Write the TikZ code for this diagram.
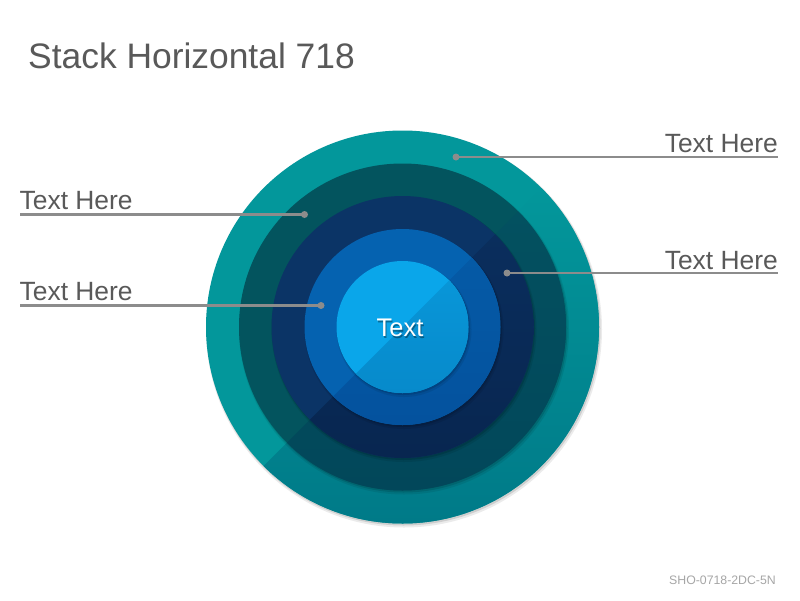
\documentclass[tikz,border=0pt]{standalone}
\usepackage{fontspec}
\setmainfont{Liberation Sans}
\definecolor{labelgray}{HTML}{595959}
\definecolor{linegray}{HTML}{8C8C8C}
\definecolor{footgray}{HTML}{A6A6A6}
\definecolor{ringAl}{HTML}{03979B}
\definecolor{ringAt}{HTML}{03979B}
\definecolor{ringAd}{HTML}{007A88}
\definecolor{ringBl}{HTML}{03545E}
\definecolor{ringBt}{HTML}{035160}
\definecolor{ringBd}{HTML}{02475A}
\definecolor{ringCl}{HTML}{0B3466}
\definecolor{ringCt}{HTML}{0A2E5D}
\definecolor{ringCd}{HTML}{082650}
\definecolor{ringDl}{HTML}{0562B0}
\definecolor{ringDt}{HTML}{055AA6}
\definecolor{ringDd}{HTML}{04529E}
\definecolor{ringEl}{HTML}{0AA6EA}
\definecolor{ringEt}{HTML}{0896D8}
\definecolor{ringEd}{HTML}{078ACB}
% #1 radius (number), #2 light colour, #3 dark-half top colour, #4 dark-half bottom colour
\newcommand\myring[4]{%
  \fill[black,opacity=0.08] (404,329.5) circle [radius={#1*1pt+1.5pt}];
  \fill[black,opacity=0.12] (403.5,328.5) circle [radius={#1*1pt+0.5pt}];
  \fill[#2] (402.5,327) circle [radius={#1*1pt}];
  \begin{scope}
    \clip (402.5,327) circle [radius={#1*1pt}];
    \clip (702.5,27) -- (702.5,627) -- (102.5,627) -- cycle;
    \shade[top color=#3, bottom color=#4] ({402.5-#1},{327-0.72*#1}) rectangle ({402.5+#1},{327+#1});
  \end{scope}}
\begin{document}
\begin{tikzpicture}[x=1pt,y=-1pt,
  lbl/.style={font=\fontsize{26.4}{30}\selectfont, text=labelgray, inner sep=0pt},
  dotnode/.style={circle, fill=linegray, minimum size=7pt, inner sep=0pt},
  pointer/.style={draw=linegray, line width=2.5pt}]
\useasboundingbox (0,0) rectangle (800,600);
\fill[white] (0,0) rectangle (800,600);
% title and footer
\node[anchor=base west, inner sep=0pt, text=labelgray, font=\fontsize{35.4}{40}\selectfont] (title) at (28,68) {Stack Horizontal 718};
\node[anchor=base east, inner sep=0pt, text=footgray, font=\fontsize{12.3}{14}\selectfont] (foot) at (776,584) {SHO-0718-2DC-5N};
% rings
\myring{196.5}{ringAl}{ringAt}{ringAd}
\myring{163.5}{ringBl}{ringBt}{ringBd}
\myring{131}{ringCl}{ringCt}{ringCd}
\myring{98}{ringDl}{ringDt}{ringDd}
\myring{66}{ringEl}{ringEt}{ringEd}
% centre text
\node[anchor=base, inner sep=0pt, text=black, opacity=0.35, font=\fontsize{25.5}{28}\selectfont] (ctshadow) at (401,338) {Text};
\node[anchor=base, inner sep=0pt, text=white, font=\fontsize{25.5}{28}\selectfont] (ctext) at (400,336.7) {Text};
% pointers
\node[dotnode] (d1) at (456,157) {};
\node[dotnode] (d2) at (304.5,214.5) {};
\node[dotnode] (d3) at (507,273) {};
\node[dotnode] (d4) at (321,305.5) {};
\coordinate (e1) at (778,157);
\coordinate (e2) at (20,214.5);
\coordinate (e3) at (778,273);
\coordinate (e4) at (20,305.5);
\draw[pointer] (d1.center) -- (e1);
\draw[pointer] (d2.center) -- (e2);
\draw[pointer] (d3.center) -- (e3);
\draw[pointer] (d4.center) -- (e4);
% labels
\node[lbl, anchor=base east] (t1) at (778,152) {Text Here};
\node[lbl, anchor=base west] (t2) at (19.5,209.5) {Text Here};
\node[lbl, anchor=base east] (t3) at (778,269) {Text Here};
\node[lbl, anchor=base west] (t4) at (19.5,300) {Text Here};
\end{tikzpicture}
\end{document}
